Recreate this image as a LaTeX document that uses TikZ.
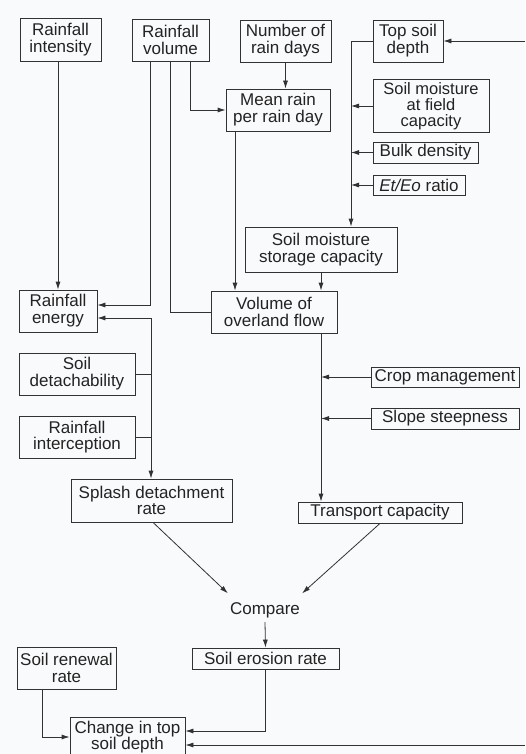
\documentclass[tikz,border=0pt]{standalone}
\usepackage{fontspec}
\setmainfont{Liberation Sans}
\usetikzlibrary{arrows.meta}
\definecolor{bg}{RGB}{249,250,252}
\definecolor{ink}{RGB}{50,50,50}
\definecolor{txt}{RGB}{35,35,35}
\tikzset{
  box/.style={draw=ink, line width=0.8pt, inner sep=0pt, align=center, text=txt,
    font=\fontsize{17}{16.8}\selectfont},
  plain/.style={inner sep=0pt, align=center, text=txt, font=\fontsize{17}{16.8}\selectfont},
  link/.style={draw=ink, line width=0.8pt},
  arr/.style={link, -{Latex[length=8pt,width=5pt]}}
}
\begin{document}
\begin{tikzpicture}[x=1pt,y=-1pt]
\fill[bg] (0,0) rectangle (525,754);
\useasboundingbox (0,0) rectangle (525,754);
\clip (0,0) rectangle (525,754);

\node[box, minimum width=81pt, minimum height=43pt] (ri) at (60.5,39.5) {Rainfall\\intensity};
\node[box, minimum width=77pt, minimum height=42pt] (rv) at (170.5,40) {Rainfall\\volume};
\node[box, minimum width=91pt, minimum height=42pt] (nrd) at (285.5,41) {Number of\\rain days};
\node[box, minimum width=104pt, minimum height=42pt] (mr) at (278,110) {Mean rain\\per rain day};
\node[box, minimum width=70pt, minimum height=42pt] (tsd) at (408,41) {Top soil\\depth};
\node[box, minimum width=116pt, minimum height=53pt, font=\fontsize{16.5}{16.2}\selectfont] (smf) at (431,106) {Soil moisture\\at field\\capacity};
\node[box, minimum width=105pt, minimum height=21pt] (bd) at (425.5,152.5) {Bulk density};
\node[box, minimum width=92pt, minimum height=20pt] (et) at (419,185) {\textit{Et/Eo} ratio};
\node[box, minimum width=152pt, minimum height=45pt] (sms) at (321,249.5) {Soil moisture\\storage capacity};
\node[box, minimum width=126pt, minimum height=42pt] (vof) at (274,312) {Volume of\\overland flow};
\node[box, minimum width=78pt, minimum height=42pt] (re) at (58,311) {Rainfall\\energy};
\node[box, minimum width=116pt, minimum height=42pt] (sd) at (77,374) {Soil\\detachability};
\node[box, minimum width=116pt, minimum height=42pt] (rint) at (77,437) {Rainfall\\interception};
\node[box, minimum width=161pt, minimum height=43pt] (sdr) at (151.5,500.5) {Splash detachment\\rate};
\node[box, minimum width=148pt, minimum height=20pt] (cm) at (445,377) {Crop management};
\node[box, minimum width=148pt, minimum height=21pt] (ss) at (445,418.5) {Slope steepness};
\node[box, minimum width=164pt, minimum height=21pt] (tc) at (380,512.5) {Transport capacity};
\node[plain, minimum height=17pt] (cmp) at (265,610) {Compare};
\node[box, minimum width=147pt, minimum height=21pt] (ser) at (265.5,658.5) {Soil erosion rate};
\node[box, minimum width=99pt, minimum height=42pt] (srr) at (66.5,668) {Soil renewal\\rate};
\node[box, minimum width=115pt, minimum height=40pt] (ctsd) at (127.5,737) {Change in top\\soil depth};

% helper coordinates
\coordinate (rvA) at ([xshift=-20.5pt]rv.south);
\coordinate (rvB) at ([xshift=-0.5pt]rv.south);
\coordinate (rvC) at ([xshift=19.5pt]rv.south);
\coordinate (mrs) at ([xshift=-43pt]mr.south);
\coordinate (bus) at (351,41);
\coordinate (loopT) at (525,41);
\coordinate (vbus) at ([xshift=47pt]vof.south);
\coordinate (ebus) at (151,318);
\coordinate (srrs) at ([xshift=-24.5pt]srr.south);
\coordinate (loopB) at (525,745);

% top-left
\draw[arr] (re.north |- ri.south) -- (re.north);
\draw[arr] (rvA) |- ([yshift=6pt]re.east);
\draw[link] (rvB) |- (vof.west);
\draw[arr] (rvC) |- (mr.west);
\draw[arr] (nrd.south) -- (nrd.south |- mr.north);
\draw[arr] (mrs) -- (mrs |- vof.north);

% soil moisture column
\draw[arr] (tsd.west) -| (bus |- sms.north);
\draw[arr] (smf.west) -- (bus |- smf.west);
\draw[arr] (bd.west) -- (bus |- bd.west);
\draw[arr] (et.west) -- (bus |- et.west);
\draw[arr] (loopT) -- (tsd.east);
\draw[arr] (sms.south) -- (sms.south |- vof.north);

% overland flow to transport
\draw[arr] (vbus) -- (vbus |- tc.north);
\draw[arr] (cm.west) -- (vbus |- cm.west);
\draw[arr] (ss.west) -- (vbus |- ss.west);

% rainfall energy to splash
\draw[arr] (ebus) -- (ebus -| re.east);
\draw[arr] (ebus) -- (ebus |- sdr.north);
\draw[link] (sd.east) -- (sd.east -| ebus);
\draw[link] (rint.east) -- (rint.east -| ebus);

% compare
\draw[arr] ([xshift=1.5pt]sdr.south) -- ([shift={(-2pt,8pt)}]cmp.north west);
\draw[arr] (tc.south) -- ([shift={(2pt,8pt)}]cmp.north east);
\draw[arr] ([yshift=-3.5pt]cmp.south) -- (ser.north);

% bottom
\draw[arr] (ser.south) |- ([yshift=6pt]ctsd.east);
\draw[arr] (loopB) -- (loopB -| ctsd.east);
\draw[arr] (srrs) |- (ctsd.west);
\end{tikzpicture}
\end{document}
